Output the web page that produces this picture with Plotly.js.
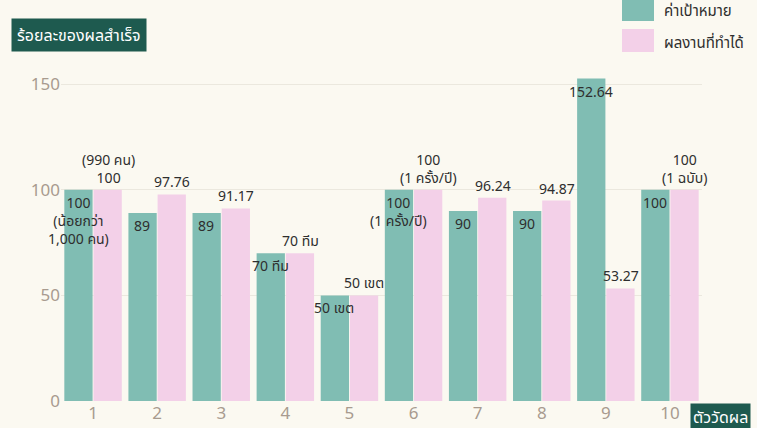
<!DOCTYPE html>
<html>
<head>
<meta charset="utf-8">
<script src="https://cdn.plot.ly/plotly-3.0.1.min.js"></script>
<style>
  html, body { margin: 0; padding: 0; background: #fbf9f1; }
  #chart { width: 757px; height: 428px; }
</style>
</head>
<body>
<div id="chart"></div>
<script>
// ---- data ----
const categories = [1, 2, 3, 4, 5, 6, 7, 8, 9, 10];
const targetValues = [100, 89, 89, 70, 50, 100, 90, 90, 152.64, 100];
const actualValues = [100, 97.76, 91.17, 70, 50, 100, 96.24, 94.87, 53.27, 100];
const targetLabels = ['100<br>(น้อยกว่า<br>1,000 คน)', '89', '89', '70 ทีม', '50 เขต', '100<br>(1 ครั้ง/ปี)', '90', '90', '152.64', '100'];
const actualLabels = ['(990 คน)<br>100', '97.76', '91.17', '70 ทีม', '50 เขต', '100<br>(1 ครั้ง/ปี)', '96.24', '94.87', '53.27', '100<br>(1 ฉบับ)'];
const seriesNames = ['ค่าเป้าหมาย', 'ผลงานที่ทำได้'];
const yTitle = 'ร้อยละของผลสำเร็จ';
const xTitle = 'ตัววัดผล';

// ---- style ----
const W = 757, H = 428;
const M = { l: 61, r: 55, t: 63, b: 27 };
const PW = W - M.l - M.r, PH = H - M.t - M.b;
const px = x => (x - M.l) / PW;
const py = y => (H - M.b - y) / PH;
const FONT = 'Noto Sans, "Noto Sans Thai", DejaVu Sans, sans-serif';
const TEAL = '#80bdb3';
const PINK = '#f3d0e8';
const DARK = '#1e5a4f';
const TXT = '#2e2e2e';

const traces = [
  { type: 'bar', name: seriesNames[0], x: categories, y: targetValues, marker: { color: TEAL }, hoverinfo: 'none' },
  { type: 'bar', name: seriesNames[1], x: categories, y: actualValues, marker: { color: PINK }, hoverinfo: 'none' }
];

const annotations = [];
categories.forEach((c, i) => {
  annotations.push({ x: c, y: targetValues[i], xref: 'x', yref: 'y', text: targetLabels[i], showarrow: false,
    xanchor: 'center', yanchor: 'top', xshift: -15, yshift: -1, font: { family: FONT, size: 14, color: TXT } });
  annotations.push({ x: c, y: actualValues[i], xref: 'x', yref: 'y', text: actualLabels[i], showarrow: false,
    xanchor: 'center', yanchor: 'bottom', xshift: 15, yshift: 1, font: { family: FONT, size: 14, color: TXT } });
});
// axis title boxes
annotations.push({ xref: 'paper', yref: 'paper', x: px(11), y: py(18), xanchor: 'left', yanchor: 'top', showarrow: false,
  text: yTitle, bgcolor: DARK, borderpad: 5, font: { family: FONT, size: 16, color: '#ffffff' } });
annotations.push({ xref: 'paper', yref: 'paper', x: px(690), y: py(403), xanchor: 'left', yanchor: 'top', showarrow: false,
  text: xTitle, bgcolor: DARK, borderpad: 2, font: { family: FONT, size: 16, color: '#ffffff' } });
// legend text
annotations.push({ xref: 'paper', yref: 'paper', x: px(662), y: py(10), xanchor: 'left', yanchor: 'middle', showarrow: false,
  text: seriesNames[0], font: { family: FONT, size: 15, color: TXT } });
annotations.push({ xref: 'paper', yref: 'paper', x: px(662), y: py(42), xanchor: 'left', yanchor: 'middle', showarrow: false,
  text: seriesNames[1], font: { family: FONT, size: 15, color: TXT } });

const shapes = [
  { type: 'rect', xref: 'paper', yref: 'paper', x0: px(622), x1: px(654), y0: py(21), y1: py(-3), fillcolor: TEAL, line: { width: 0 } },
  { type: 'rect', xref: 'paper', yref: 'paper', x0: px(622), x1: px(654), y0: py(52), y1: py(29), fillcolor: PINK, line: { width: 0 } }
];

const layout = {
  width: W, height: H,
  margin: M,
  paper_bgcolor: '#fbf9f1',
  plot_bgcolor: '#fbf9f1',
  barmode: 'group',
  bargap: 0.09,
  bargroupgap: 0.03,
  showlegend: false,
  font: { family: FONT, color: TXT },
  xaxis: {
    range: [0.5, 10.5], tickmode: 'array', tickvals: categories, ticktext: categories.map(String),
    showgrid: false, zeroline: false, showline: false, ticks: '',
    tickfont: { family: FONT, size: 17, color: '#a89b8f' }
  },
  yaxis: {
    range: [0, 160], tickvals: [0, 50, 100, 150], showgrid: true, gridcolor: '#ebe8de', gridwidth: 1,
    zeroline: false, showline: false, ticks: '',
    tickfont: { family: FONT, size: 17, color: '#a89b8f' }
  },
  annotations: annotations,
  shapes: shapes
};

Plotly.newPlot('chart', traces, layout, { displayModeBar: false, staticPlot: true });
</script>
</body>
</html>
